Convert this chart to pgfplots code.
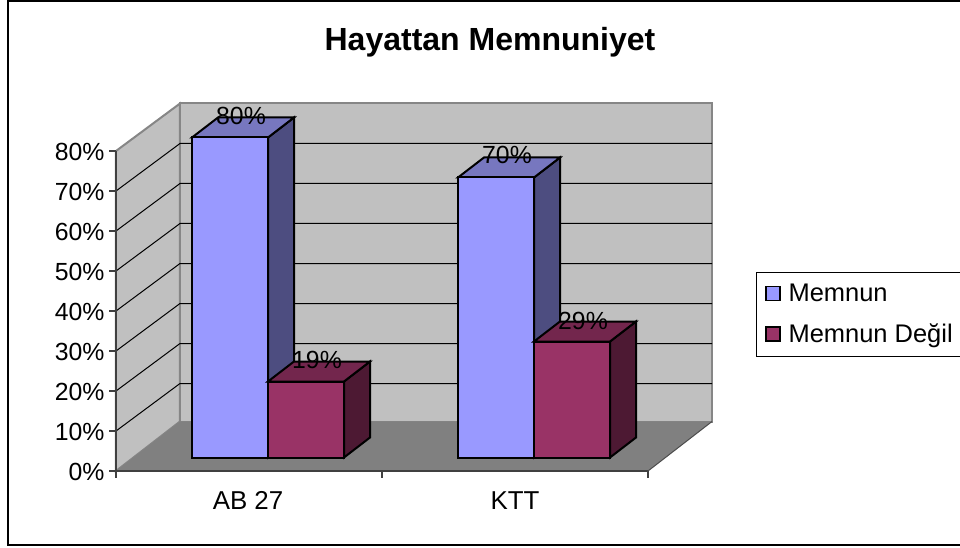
\documentclass[border=0pt]{standalone}
\usepackage{fontspec}
\setmainfont{Liberation Sans}
\usepackage{pgfplots}
\pgfplotsset{compat=1.18}

% 1 px = 0.75 pt; x is in image pixels, y is percent measured from the bar base
\definecolor{wall}{HTML}{C0C0C0}
\definecolor{floorc}{HTML}{808080}
\definecolor{edge}{HTML}{868686}
\definecolor{blueF}{HTML}{9999FF}
\definecolor{blueT}{HTML}{7777BF}
\definecolor{blueS}{HTML}{4D4D80}
\definecolor{redF}{HTML}{993366}
\definecolor{redT}{HTML}{73264D}
\definecolor{redS}{HTML}{4D1933}

\begin{document}
\begin{tikzpicture}
\begin{axis}[
  x=0.75pt, y=3pt,
  xmin=116, xmax=648,
  ymin=-3.375, ymax=76.625,
  clip=false,
  axis on top,
  axis y line*=left, axis x line*=bottom,
  axis line style={line width=1pt, black!75},
  tick style={line width=1pt, black!75},
  tick align=outside,
  major tick length=5pt,
  ytick={-3.375,6.625,16.625,26.625,36.625,46.625,56.625,66.625,76.625},
  yticklabels={0\%,10\%,20\%,30\%,40\%,50\%,60\%,70\%,80\%},
  xtick={116,382,648},
  xticklabels={,,},
  extra x ticks={248,515},
  extra x tick labels={AB 27,KTT},
  extra x tick style={major tick length=0pt, xticklabel style={yshift=-12pt, font=\fontsize{19.4pt}{20pt}\selectfont}},
  tick label style={font=\fontsize{18.6pt}{20pt}\selectfont},
  yticklabel style={inner sep=0pt, xshift=-3.5pt, yshift=-0.5pt},
  legend style={
    at={(axis cs:755.7,46.5)}, anchor=north west,
    draw=black, line width=0.75pt, fill=white,
    font=\fontsize{19.1pt}{20pt}\selectfont,
    inner xsep=3.5pt, inner ysep=7pt,
    row sep=11pt,
    /tikz/every even column/.append style={column sep=0pt},
  },
  legend cell align=left,
  legend image code/.code={
    \path[draw=none, fill=none] (0pt,0pt) -- (17.25pt,0pt);
    \draw[#1, line width=1pt] (3.75pt,-5.25pt) rectangle (14.25pt,5.25pt);
  },
]
% outer frame, open on the right where the image cuts it
\draw[line width=1.6pt] (axis cs:960,114.125) -- (axis cs:8,114.125)
  -- (axis cs:8,-21.875) -- (axis cs:960,-21.875);

% walls and floor
\addplot[fill=wall, draw=edge, line width=1.5pt, forget plot] coordinates {
  (116,-3.375) (116,76.625) (180,88.5) (180,9) } -- cycle;
\addplot[fill=wall, draw=edge, line width=1.5pt, forget plot] coordinates {
  (180,9) (180,88.5) (712,88.5) (712,9) } -- cycle;
\addplot[fill=floorc, draw=none, forget plot] coordinates {
  (116,-3.375) (648,-3.375) (712,9) (180,9) } -- cycle;
\addplot[draw=black!70, line width=0.75pt, forget plot] coordinates {
  (648,-3.375) (712,9) };

% gridlines across side wall and back wall
\addplot[black, line width=0.75pt, unbounded coords=jump, forget plot] coordinates {
  (116,6.625) (180,18.5) (712,18.5) (nan,nan)
  (116,16.625) (180,28.5) (712,28.5) (nan,nan)
  (116,26.625) (180,38.5) (712,38.5) (nan,nan)
  (116,36.625) (180,48.5) (712,48.5) (nan,nan)
  (116,46.625) (180,58.5) (712,58.5) (nan,nan)
  (116,56.625) (180,68.5) (712,68.5) (nan,nan)
  (116,66.625) (180,78.5) (712,78.5)
};

% AB 27
\addplot[fill=blueS, draw=black, line width=1.5pt, forget plot] coordinates {
  (268,0) (294,5) (294,85) (268,80) } -- cycle;
\addplot[fill=blueT, draw=black, line width=1.5pt, forget plot] coordinates {
  (192,80) (218,85) (294,85) (268,80) } -- cycle;
\addplot[fill=blueF, draw=black, line width=1.5pt] coordinates {
  (192,0) (192,80) (268,80) (268,0) } -- cycle;
\addlegendentry{\hspace{1.5pt}Memnun}
\addplot[fill=redS, draw=black, line width=1.5pt, forget plot] coordinates {
  (344,0) (370,5) (370,24) (344,19) } -- cycle;
\addplot[fill=redT, draw=black, line width=1.5pt, forget plot] coordinates {
  (268,19) (294,24) (370,24) (344,19) } -- cycle;
\addplot[fill=redF, draw=black, line width=1.5pt] coordinates {
  (268,0) (268,19) (344,19) (344,0) } -- cycle;
\addlegendentry{\hspace{1.5pt}Memnun Değil}

% KTT
\addplot[fill=blueS, draw=black, line width=1.5pt, forget plot] coordinates {
  (534,0) (560,5) (560,75) (534,70) } -- cycle;
\addplot[fill=blueT, draw=black, line width=1.5pt, forget plot] coordinates {
  (458,70) (484,75) (560,75) (534,70) } -- cycle;
\addplot[fill=blueF, draw=black, line width=1.5pt, forget plot] coordinates {
  (458,0) (458,70) (534,70) (534,0) } -- cycle;
\addplot[fill=redS, draw=black, line width=1.5pt, forget plot] coordinates {
  (610,0) (636,5) (636,34) (610,29) } -- cycle;
\addplot[fill=redT, draw=black, line width=1.5pt, forget plot] coordinates {
  (534,29) (560,34) (636,34) (610,29) } -- cycle;
\addplot[fill=redF, draw=black, line width=1.5pt, forget plot] coordinates {
  (534,0) (534,29) (610,29) (610,0) } -- cycle;

% value labels
\begin{scope}[every node/.style={font=\fontsize{18.6pt}{20pt}\selectfont, inner sep=0pt}]
\node at (axis cs:241,85.4) {80\%};
\node at (axis cs:317,24.4) {19\%};
\node at (axis cs:507,75.6) {70\%};
\node at (axis cs:583,34.2) {29\%};
\end{scope}

\node[font=\fontsize{24pt}{26pt}\selectfont\bfseries, inner sep=0pt] at (axis cs:490,103.9) {Hayattan Memnuniyet};

\coordinate (bl) at (axis cs:0,-22.375);
\coordinate (tr) at (axis cs:960,114.375);
\end{axis}
\pgfresetboundingbox
\path[use as bounding box] (bl) rectangle (tr);
\end{tikzpicture}
\end{document}
